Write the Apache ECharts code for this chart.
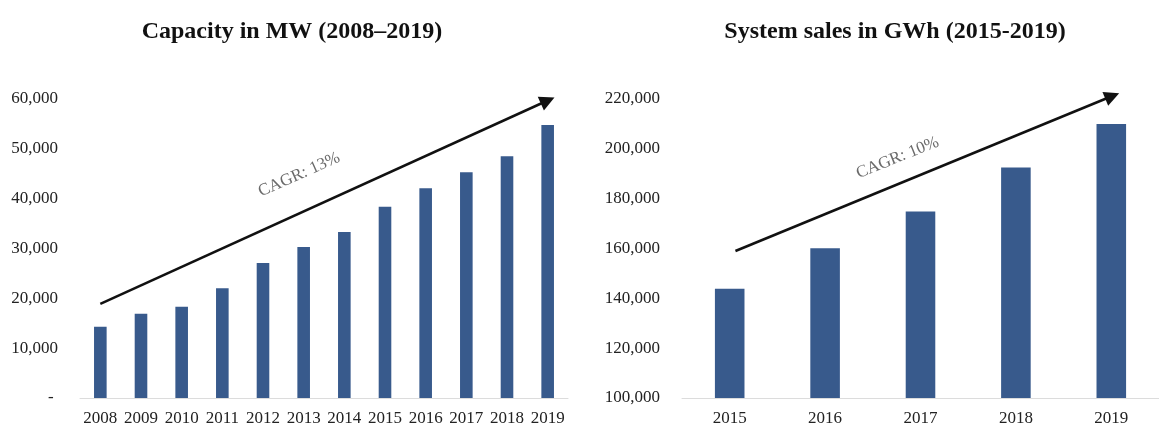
<!DOCTYPE html>
<html>
<head>
<meta charset="utf-8">
<title>Capacity and system sales</title>
<script src="https://cdn.jsdelivr.net/npm/echarts@6/dist/echarts.min.js"></script>
<style>
  html, body { margin: 0; padding: 0; background: #fff; }
  #chart { width: 1159px; height: 428px; }
</style>
</head>
<body>
<div id="chart"></div>
<script>
// Installed capacity, MW
const capYears = ['2008', '2009', '2010', '2011', '2012', '2013', '2014', '2015', '2016', '2017', '2018', '2019'];
const capacityMW = [14300, 16900, 18300, 22000, 27100, 30300, 33300, 38400, 42100, 45300, 48500, 54800];

// System sales, GWh
const salesYears = ['2015', '2016', '2017', '2018', '2019'];
const salesGWh = [143800, 160100, 174800, 192500, 210000];

// Growth arrows: [category index, value] start and end
const capTrend = [[0, 18900], [11, 59700]];
const salesTrend = [[0.06, 159000], [4.01, 221200]];

// Growth captions and where they sit: [category index, value]
const capCagrText = 'CAGR: 13%';
const capCagrAt = [4.89, 44800];
const salesCagrText = 'CAGR: 10%';
const salesCagrAt = [1.76, 196400];

const FONT = "'Liberation Serif', 'Times New Roman', serif";
const BAR = '#385A8C';

const chart = echarts.init(document.getElementById('chart'), null, { renderer: 'canvas' });

function thousands(v) {
  return Number(v).toLocaleString('en-US');
}

const tickText = { color: '#222', fontFamily: FONT, fontSize: 17 };

function categoryAxis(gridIndex, data) {
  return {
    type: 'category', gridIndex, data,
    axisLine: { lineStyle: { color: '#dcdcdc', width: 1 } },
    axisTick: { show: false },
    axisLabel: Object.assign({ interval: 0, margin: 12 }, tickText)
  };
}

function valueAxis(gridIndex, min, max, interval, zeroText) {
  return {
    type: 'value', gridIndex, min, max, interval,
    axisLine: { show: false },
    axisTick: { show: false },
    splitLine: { show: false },
    axisLabel: Object.assign({
      margin: 22,
      formatter: v => (zeroText !== null && v === 0) ? zeroText : thousands(v)
    }, tickText)
  };
}

function overlayAxis(gridIndex, count) {
  return { type: 'value', gridIndex, min: -0.5, max: count - 0.5, show: false };
}

function arrow(xAxisIndex, yAxisIndex, coords) {
  return {
    type: 'lines', coordinateSystem: 'cartesian2d',
    xAxisIndex, yAxisIndex, clip: false, silent: true, z: 5,
    symbol: ['none', 'triangle'], symbolSize: [14, 15],
    lineStyle: { color: '#111', width: 2.5, opacity: 1, curveness: 0 },
    data: [{ coords }]
  };
}

function caption(xAxisIndex, yAxisIndex, at, text, angle) {
  return {
    type: 'scatter', xAxisIndex, yAxisIndex, silent: true, z: 6,
    symbolSize: 1, itemStyle: { color: 'rgba(0,0,0,0)' },
    data: [at],
    label: {
      show: true, position: 'inside', formatter: text, rotate: angle,
      color: '#454545', fontFamily: FONT, fontSize: 17
    }
  };
}

const option = {
  animation: false,
  backgroundColor: '#fff',
  title: [
    {
      text: 'Capacity in MW (2008–2019)', left: 287, top: 15, textAlign: 'center',
      textStyle: { fontFamily: FONT, fontSize: 24, fontWeight: 'bold', color: '#111' }
    },
    {
      text: 'System sales in GWh (2015-2019)', left: 890, top: 15, textAlign: 'center',
      textStyle: { fontFamily: FONT, fontSize: 24, fontWeight: 'bold', color: '#111' }
    }
  ],
  grid: [
    { left: 80, top: 99, width: 488, height: 299 },
    { left: 682, top: 99, width: 488, height: 299 }
  ],
  xAxis: [
    categoryAxis(0, capYears),
    categoryAxis(1, salesYears),
    overlayAxis(0, capYears.length),
    overlayAxis(1, salesYears.length)
  ],
  yAxis: [
    valueAxis(0, 0, 60000, 10000, '- '),
    valueAxis(1, 100000, 220000, 20000, null)
  ],
  series: [
    {
      type: 'bar', xAxisIndex: 0, yAxisIndex: 0, data: capacityMW,
      barWidth: '31%', itemStyle: { color: BAR }
    },
    {
      type: 'bar', xAxisIndex: 1, yAxisIndex: 1, data: salesGWh,
      barWidth: '31%', itemStyle: { color: BAR }
    },
    arrow(2, 0, capTrend),
    arrow(3, 1, salesTrend),
    caption(2, 0, capCagrAt, capCagrText, 24),
    caption(3, 1, salesCagrAt, salesCagrText, 22)
  ]
};

chart.setOption(option);
</script>
</body>
</html>
